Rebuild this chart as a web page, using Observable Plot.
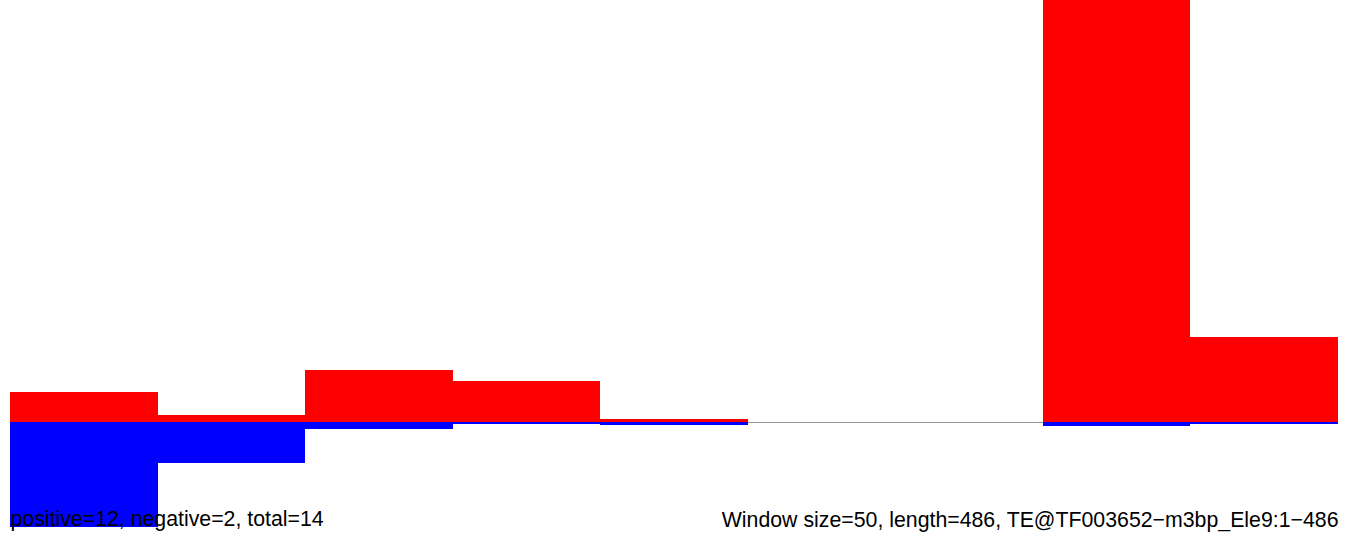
<!DOCTYPE html>
<html><head><meta charset="utf-8">
<script src="https://cdn.jsdelivr.net/npm/d3@7"></script>
<script src="https://cdn.jsdelivr.net/npm/@observablehq/plot@0.6"></script>
<style>html,body{margin:0;padding:0;background:#fff;overflow:hidden}</style>
</head><body><div id="chart"></div>
<script>
const windowStart = [0, 50, 100, 150, 200, 250, 300, 350, 400];
const windowSize = 50;
const positiveScore = [7.1, 1.7, 12.3, 9.7, 0.7, 0, 0, 100, 20.1];
const negativeScore = [-24.9, -9.7, -1.7, -0.5, -0.7, 0, 0, -0.9, -0.5];
const leftLabel = "positive=12, negative=2, total=14";
const rightLabel = "Window size=50, length=486, TE@TF003652\u2212m3bp_Ele9:1\u2212486";

const rows = windowStart.map((s, i) => ({
  start: s, end: s + windowSize, pos: positiveScore[i], neg: negativeScore[i]
}));

const chart = Plot.plot({
  width: 1358,
  height: 533,
  marginTop: 0,
  marginBottom: 0,
  marginLeft: 10,
  marginRight: 20,
  x: {domain: [0, 450], axis: null},
  y: {domain: [-26.3, 100], axis: null},
  style: {fontFamily: "'Liberation Sans', Arial, sans-serif", background: "#fff"},
  marks: [
    Plot.ruleY([0], {stroke: "#999999", strokeWidth: 1.2}),
    Plot.rectY(rows, {x1: "start", x2: "end", y1: 0, y2: "pos", fill: "#ff0000", shapeRendering: "crispEdges"}),
    Plot.rectY(rows, {x1: "start", x2: "end", y1: 0, y2: "neg", fill: "#0000ff", shapeRendering: "crispEdges"}),
    Plot.text([leftLabel], {text: d => d, frameAnchor: "bottom-left", textAnchor: "start", lineAnchor: "bottom", dy: -8, fontSize: 21.3, fill: "#000"}),
    Plot.text([rightLabel], {text: d => d, frameAnchor: "bottom-right", textAnchor: "end", lineAnchor: "bottom", dy: -7, fontSize: 21.3, fill: "#000"})
  ]
});
document.getElementById("chart").appendChild(chart);
</script>
</body></html>
